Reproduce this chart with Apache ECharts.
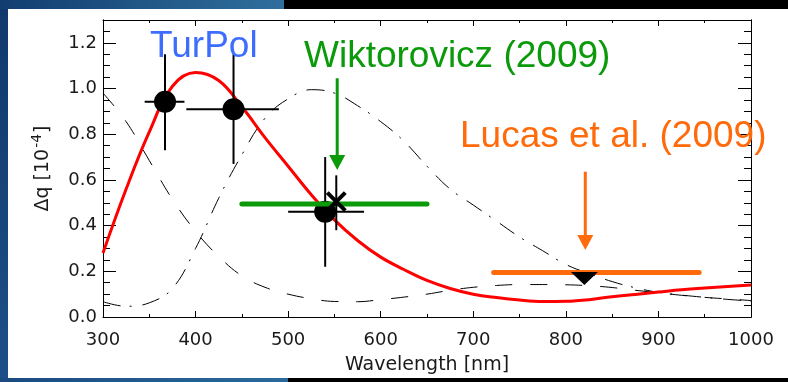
<!DOCTYPE html>
<html><head><meta charset="utf-8">
<script src="https://cdn.jsdelivr.net/npm/echarts@6/dist/echarts.min.js"></script>
<style>
html,body{margin:0;padding:0;width:788px;height:382px;overflow:hidden;background:#000;}
#leftbar{position:absolute;left:0;top:0;width:8px;height:382px;background:linear-gradient(#10396b,#1d5088);}
#topbar{position:absolute;left:0;top:0;width:284px;height:9px;background:linear-gradient(90deg,#123d70,#2f6f9d);}
#bottombar{position:absolute;left:0;top:378px;width:288px;height:4px;background:linear-gradient(90deg,#1a4a80,#2a6a9a);}
#white{position:absolute;left:8px;top:9px;width:780px;height:369px;background:#fff;}
#chart{position:absolute;left:0;top:0;width:788px;height:382px;}
</style>
</head><body>
<div id="leftbar"></div><div id="topbar"></div><div id="bottombar"></div><div id="white"></div>
<div id="chart"></div>
<script>
// ---- data ----
const wavelength = [300,325,350,375,400,425,450,475,500,525,550,575,600,625,650,675,700,725,750,775,800,825,850,875,900,925,950,975,1000];
const modelTotal = [0.28,0.56,0.81,1.01,1.07,1.035,0.92,0.785,0.66,0.535,0.425,0.335,0.262,0.208,0.16,0.125,0.10,0.085,0.074,0.068,0.069,0.076,0.089,0.099,0.109,0.119,0.127,0.134,0.14];
const modelDashed = [0.98,0.855,0.685,0.515,0.375,0.265,0.18,0.13,0.10,0.08,0.068,0.067,0.076,0.087,0.10,0.117,0.13,0.138,0.142,0.142,0.141,0.137,0.129,0.117,0.106,0.095,0.086,0.079,0.072];
const modelDashDot = [0.067,0.047,0.062,0.125,0.30,0.52,0.71,0.87,0.955,0.995,0.98,0.925,0.855,0.77,0.66,0.56,0.49,0.42,0.35,0.29,0.23,0.19,0.155,0.128,0.108,0.096,0.086,0.077,0.07];

const turpolX = [367, 441, 540];
const turpolY = [0.942, 0.909, 0.461];
const turpolXLow = [345, 390, 500];
const turpolXHigh = [388, 490, 582];
const turpolYLow = [0.73, 0.67, 0.22];
const turpolYHigh = [1.15, 1.15, 0.70];

const wiktX = [552];
const wiktY = [0.505];
const wiktYLow = [0.38];
const wiktYHigh = [0.62];
const wiktBandX = [450, 650];
const wiktBandY = [0.495, 0.495];

const lucasBandX = [722, 944];
const lucasBandY = [0.195, 0.195];
const lucasPointX = [820];
const lucasPointY = [0.168];

const arrowGreen = [553, 1.045, 0.643];   // x, from y, to y
const arrowOrange = [821, 0.636, 0.293];

const yTickLabels = ['0.0','0.2','0.4','0.6','0.8','1.0','1.2'];
const xTickLabels = ['300','400','500','600','700','800','900','1000'];

// ---- chart ----
const chart = echarts.init(document.getElementById('chart'), null, {renderer:'canvas'});
const FONT = 'DejaVu Sans';
const TXT = '#1a1a1a';
const GREEN = '#0a9a0a';
const ORANGE = '#ff6a0a';

function pairs(xs, ys){ return xs.map((x,i)=>[x, ys[i]]); }

const axisLineStyle = {show:true, onZero:false, lineStyle:{color:'#000', width:1}};
function yAx(pos, interval, len, labels){
  return {type:'value', min:0, max:1.3, interval:interval, position:pos,
    axisLine: axisLineStyle,
    axisTick:{show:true, inside:true, length:len, lineStyle:{color:'#000', width:1}},
    splitLine:{show:false},
    axisLabel:{show:labels, margin:6, fontSize:18, fontFamily:FONT, color:TXT, showMaxLabel:false,
      formatter: v => { const k = Math.round(v/0.2); return (Math.abs(v - k*0.2) < 1e-6 && k < yTickLabels.length) ? yTickLabels[k] : ''; }}
  };
}
const yMain = yAx('left', 0.2, 13, true);
yMain.name = '{a|Δq [10}{b|-4}{a|]}';
yMain.nameLocation = 'middle';
yMain.nameGap = 50;
yMain.nameTextStyle = {fontSize:19, fontFamily:FONT, color:TXT,
  rich:{a:{fontSize:19, fontFamily:FONT, color:TXT, verticalAlign:'bottom'},
        b:{fontSize:14, fontFamily:FONT, color:TXT, verticalAlign:'bottom', padding:[0,1,9,1]}}};

function xAx(pos, labels){
  return {type:'value', min:300, max:1000, interval:100, position:pos,
    axisLine: axisLineStyle,
    axisTick:{show:true, inside:true, length:6, lineStyle:{color:'#000', width:1}},
    minorTick:{show:true, splitNumber:2, length:3, lineStyle:{color:'#000', width:1}},
    splitLine:{show:false}, minorSplitLine:{show:false},
    axisLabel:{show:labels, margin:14, fontSize:18, fontFamily:FONT, color:TXT,
      formatter: v => { const k = Math.round((v-300)/100); return xTickLabels[k] || ''; }}
  };
}
const xMain = xAx('bottom', true);
xMain.name = 'Wavelength [nm]';
xMain.nameLocation = 'middle';
xMain.nameGap = 39;
xMain.nameTextStyle = {fontSize:19, fontFamily:FONT, color:TXT};

function arrowRender(params, api){
  const top = api.coord([api.value(0), api.value(1)]);
  const tip = api.coord([api.value(0), api.value(2)]);
  const col = api.visual('color');
  const hh = 15, hw = 8;
  return {type:'group', children:[
    {type:'line', shape:{x1:top[0], y1:top[1], x2:tip[0], y2:tip[1]-hh+1}, style:{stroke:col, lineWidth:3}},
    {type:'polygon', shape:{points:[[tip[0]-hw, tip[1]-hh],[tip[0]+hw, tip[1]-hh],[tip[0], tip[1]]]}, style:{fill:col}}
  ]};
}

const option = {
  backgroundColor:'transparent',
  animation:false,
  grid:{left:103, right:37, top:20, bottom:65, containLabel:false},
  xAxis:[xMain, xAx('top', false)],
  yAxis:[yMain, yAx('left', 0.05, 7, false), yAx('right', 0.2, 13, false), yAx('right', 0.05, 7, false)],
  graphic:[
    {type:'text', x:150, y:46.5, z:100, style:{text:'TurPol', fill:'#3d6dff', fontSize:37, fontFamily:'Liberation Sans', verticalAlign:'middle'}},
    {type:'text', x:304, y:57.2, z:100, style:{text:'Wiktorovicz (2009)', fill:GREEN, fontSize:37, fontFamily:'Liberation Sans', verticalAlign:'middle'}},
    {type:'text', x:460, y:137.2, z:100, style:{text:'Lucas et al. (2009)', fill:ORANGE, fontSize:37, fontFamily:'Liberation Sans', verticalAlign:'middle'}}
  ],
  series:[
    {type:'line', data:pairs(wavelength, modelDashed), smooth:0.4, showSymbol:false, silent:true,
      lineStyle:{color:'#000', width:1, type:[17,18]}, z:2},
    {type:'line', data:pairs(wavelength, modelDashDot), smooth:0.4, showSymbol:false, silent:true,
      lineStyle:{color:'#000', width:1, type:[18,9,2,11]}, z:2},
    {type:'line', data:pairs(wavelength, modelTotal), smooth:0.4, showSymbol:false, silent:true,
      lineStyle:{color:'#ff0000', width:3}, z:3},
    {type:'custom', silent:true, z:4,
      data: turpolX.map((x,i)=>[x, turpolY[i], turpolXLow[i], turpolXHigh[i], turpolYLow[i], turpolYHigh[i]]),
      encode:{x:0, y:1},
      renderItem:(params, api)=>{
        const xl = api.coord([api.value(2), api.value(1)]);
        const xh = api.coord([api.value(3), api.value(1)]);
        const yl = api.coord([api.value(0), api.value(4)]);
        const yh = api.coord([api.value(0), api.value(5)]);
        return {type:'group', children:[
          {type:'line', shape:{x1:xl[0], y1:xl[1], x2:xh[0], y2:xh[1]}, style:{stroke:'#000', lineWidth:2}},
          {type:'line', shape:{x1:yl[0], y1:yl[1], x2:yh[0], y2:yh[1]}, style:{stroke:'#000', lineWidth:2}}
        ]};
      }},
    {type:'scatter', data:pairs(turpolX, turpolY), symbol:'circle', symbolSize:22, silent:true,
      itemStyle:{color:'#000', opacity:1}, z:5},
    {type:'line', data:pairs(wiktBandX, wiktBandY), showSymbol:false, silent:true,
      lineStyle:{color:GREEN, width:5, cap:'round'}, z:6},
    {type:'custom', silent:true, z:7,
      data: wiktX.map((x,i)=>[x, wiktY[i], wiktYLow[i], wiktYHigh[i]]),
      encode:{x:0, y:1},
      renderItem:(params, api)=>{
        const c = api.coord([api.value(0), api.value(1)]);
        const yl = api.coord([api.value(0), api.value(2)]);
        const yh = api.coord([api.value(0), api.value(3)]);
        const r = 9;
        return {type:'group', children:[
          {type:'line', shape:{x1:yl[0], y1:yl[1], x2:yh[0], y2:yh[1]}, style:{stroke:'#000', lineWidth:2}},
          {type:'line', shape:{x1:c[0]-r, y1:c[1]-r, x2:c[0]+r, y2:c[1]+r}, style:{stroke:'#000', lineWidth:4}},
          {type:'line', shape:{x1:c[0]+r, y1:c[1]-r, x2:c[0]-r, y2:c[1]+r}, style:{stroke:'#000', lineWidth:4}}
        ]};
      }},
    {type:'line', data:pairs(lucasBandX, lucasBandY), showSymbol:false, silent:true,
      lineStyle:{color:ORANGE, width:5, cap:'round'}, z:6},
    {type:'scatter', data:pairs(lucasPointX, lucasPointY), symbol:'triangle', symbolRotate:180, symbolSize:[27,13], silent:true,
      itemStyle:{color:'#000', opacity:1}, z:7},
    {type:'custom', silent:true, z:8, data:[arrowGreen], encode:{x:0, y:1}, itemStyle:{color:GREEN}, renderItem:arrowRender},
    {type:'custom', silent:true, z:8, data:[arrowOrange], encode:{x:0, y:1}, itemStyle:{color:ORANGE}, renderItem:arrowRender}
  ]
};
chart.setOption(option);
</script>
</body></html>
